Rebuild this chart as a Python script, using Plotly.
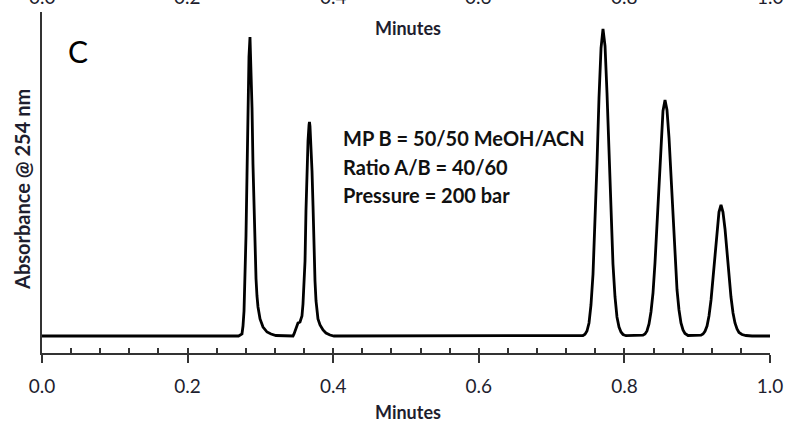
import plotly.graph_objects as go

# Chromatogram trace (time in minutes, absorbance in arbitrary units)
time_min = [
    0.0, 0.2700,
    0.2747, 0.2761, 0.2775, 0.2788, 0.2802, 0.2816, 0.2830, 0.2843, 0.2857,
    0.2871, 0.2885, 0.2898, 0.2912, 0.2926, 0.2940, 0.2953, 0.2967, 0.2995,
    0.3036, 0.3091, 0.3146, 0.3214,
    0.3448, 0.3462, 0.3482, 0.3503, 0.3516, 0.3544, 0.3571, 0.3585, 0.3599,
    0.3613, 0.3626, 0.3640, 0.3654, 0.3668, 0.3674, 0.3681, 0.3695, 0.3709,
    0.3723, 0.3736, 0.3750, 0.3764, 0.3777, 0.3791, 0.3819, 0.3860, 0.3901,
    0.3956, 0.4011,
    0.7431, 0.7459, 0.7486, 0.7514, 0.7541, 0.7569, 0.7596, 0.7624, 0.7651,
    0.7679, 0.7706, 0.7734, 0.7761, 0.7788, 0.7816, 0.7843, 0.7871, 0.7898,
    0.7926, 0.7953, 0.7981, 0.8022,
    0.8255, 0.8283, 0.8310, 0.8338, 0.8365, 0.8393, 0.8420, 0.8448, 0.8475,
    0.8503, 0.8530, 0.8558, 0.8585, 0.8613, 0.8640, 0.8668, 0.8695, 0.8723,
    0.8750, 0.8777, 0.8805, 0.8832, 0.8874,
    0.9052, 0.9080, 0.9107, 0.9135, 0.9162, 0.9190, 0.9217, 0.9245, 0.9272,
    0.9299, 0.9327, 0.9354, 0.9382, 0.9409, 0.9437, 0.9464, 0.9492, 0.9519,
    0.9547, 0.9574, 0.9615, 0.9670, 0.9753, 1.0,
]
absorbance = [
    0, 0,
    2, 10, 25, 54, 100, 161, 227, 279, 299,
    272, 228, 172, 122, 84, 57, 40, 29, 17,
    9, 4, 2, 0.5,
    0, 2, 6, 11, 13, 14, 20, 32, 48,
    75, 125, 165, 195, 211, 214, 210, 190, 165,
    130, 88, 55, 35, 24, 17, 11, 6, 3,
    1, 0,
    0.5, 1.7, 5, 13, 31, 62, 111, 173, 238,
    288, 307, 290, 243, 180, 120, 72, 39, 19,
    9, 4, 1.5, 0.3,
    0.8, 2, 5, 12, 24, 43, 73, 111, 155,
    196, 225, 236, 226, 198, 158, 115, 77, 46,
    26, 13, 6, 2.5, 0.5,
    0.8, 2, 4.7, 10, 20, 36, 57, 82, 106,
    124, 131, 124, 107, 84, 60, 39, 23, 13,
    7, 3.5, 1.5, 0.5, 0, 0,
]

x_ticks = [0.0, 0.2, 0.4, 0.6, 0.8, 1.0]
x_tick_labels = ["0.0", "0.2", "0.4", "0.6", "0.8", "1.0"]

x_title = "Minutes"
y_title = "Absorbance @ 254 nm"
panel_label = "C"
conditions = ["MP B = 50/50 MeOH/ACN", "Ratio A/B = 40/60", "Pressure = 200 bar"]

FONT = "Lato"
AXIS_COLOR = "#333333"
TEXT_COLOR = "#1e1e2e"

fig = go.Figure()
fig.add_trace(go.Scatter(
    x=time_min, y=absorbance, mode="lines",
    line=dict(color="black", width=2.8), hoverinfo="skip", showlegend=False,
))
# invisible trace to carry the inner tick axis
fig.add_trace(go.Scatter(x=[0, 1], y=[0, 0], xaxis="x2", mode="lines",
                         line=dict(width=0), hoverinfo="skip", showlegend=False))

fig.update_layout(
    width=788, height=426,
    margin=dict(l=42, r=18, t=12, b=73, autoexpand=False),
    paper_bgcolor="white", plot_bgcolor="white",
    font=dict(family=FONT, color=TEXT_COLOR),
    hovermode=False,
    xaxis=dict(
        range=[0, 1], tickvals=x_ticks, ticktext=x_tick_labels,
        ticks="outside", ticklen=8, tickwidth=1.5, tickcolor=AXIS_COLOR,
        showline=True, linecolor=AXIS_COLOR, linewidth=1.5,
        showgrid=False, zeroline=False, automargin=False,
        tickfont=dict(family=FONT, size=19, color=TEXT_COLOR),
        ticklabelstandoff=7,
    ),
    xaxis2=dict(
        range=[0, 1], overlaying="x", anchor="y", side="bottom",
        dtick=0.04, tick0=0, ticks="inside", ticklen=5, tickwidth=1.5,
        tickcolor=AXIS_COLOR, showticklabels=False, showline=False,
        showgrid=False, zeroline=False, automargin=False,
    ),
    yaxis=dict(
        range=[-17, 324], showline=True, linecolor=AXIS_COLOR, linewidth=1.5,
        ticks="", showticklabels=False, showgrid=False, zeroline=False,
        automargin=False,
    ),
)

ann = []
# x-axis title (bottom)
ann.append(dict(x=0.5033, y=-0.173, xref="paper", yref="paper", text="<b>%s</b>" % x_title,
                showarrow=False, font=dict(size=18, family=FONT, color=TEXT_COLOR),
                xanchor="center", yanchor="middle"))
# x-axis title of the panel above (cut at the top of the picture)
ann.append(dict(x=0.5033, y=0.953, xref="paper", yref="paper", text="<b>%s</b>" % x_title,
                showarrow=False, font=dict(size=18, family=FONT, color=TEXT_COLOR),
                xanchor="center", yanchor="middle"))
# tick labels of the panel above, mostly cut off
for v, lab in zip(x_ticks, x_tick_labels):
    ann.append(dict(x=v, y=1.045, xref="x", yref="paper", text=lab, showarrow=False,
                    font=dict(size=19, family=FONT, color=TEXT_COLOR),
                    xanchor="center", yanchor="middle"))
# y-axis title
ann.append(dict(x=-0.0275, y=0.481, xref="paper", yref="paper", text="<b>%s</b>" % y_title,
                showarrow=False, textangle=-90, font=dict(size=20, family=FONT, color=TEXT_COLOR),
                xanchor="center", yanchor="middle"))
# panel letter
ann.append(dict(x=0.0495, y=0.886, xref="paper", yref="paper", text=panel_label,
                showarrow=False, font=dict(size=30, family=FONT, color="black"),
                xanchor="center", yanchor="middle"))
# conditions text, one line each
for i, c in enumerate(conditions):
    ann.append(dict(x=0.411, y=0.630 - i * 0.0836, xref="paper", yref="paper",
                    text="<b>%s</b>" % c, showarrow=False, align="left",
                    font=dict(size=20, family=FONT, color="#111111"),
                    xanchor="left", yanchor="middle"))
fig.update_layout(annotations=ann)

fig.write_html("out.html", config={"displayModeBar": False},
               post_script="document.body.style.margin='0px';")
